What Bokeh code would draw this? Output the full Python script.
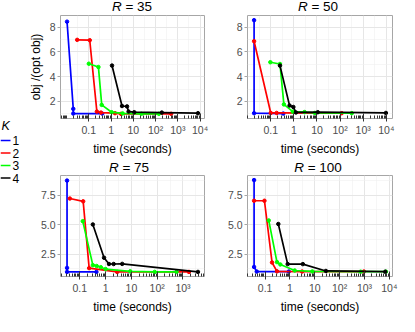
import math
from bokeh.plotting import figure
from bokeh.models import Range1d, FixedTicker, ColumnDataSource, Div
from bokeh.core.properties import value
from bokeh.layouts import row, column
from bokeh.embed import file_html
from bokeh.resources import INLINE

# ---------------- data ----------------
K_LABELS = ["1", "2", "3", "4"]
K_COLORS = ["#0000FF", "#FF0000", "#00FF00", "#000000"]
R_VALUES = [35, 50, 75, 100]

# R = 35
t35_k1 = [0.0105, 0.02, 0.02, 0.4]
y35_k1 = [8.45, 1.4, 1.02, 1.02]
t35_k2 = [0.03, 0.11, 0.23, 0.35, 1.5, 2.8, 500]
y35_k2 = [6.98, 6.95, 1.18, 1.1, 1.05, 1.0, 1.0]
t35_k3 = [0.1, 0.27, 0.38, 1.06, 3.3, 23, 140]
y35_k3 = [5.05, 4.78, 1.72, 1.13, 1.03, 1.0, 1.0]
t35_k4 = [1.1, 3.1, 5.2, 6.1, 11, 190, 8000]
y35_k4 = [4.9, 1.63, 1.6, 1.18, 1.13, 1.1, 1.05]

# R = 50
t50_k1 = [0.019, 0.019, 0.35]
y50_k1 = [8.57, 1.05, 1.02]
t50_k2 = [0.019, 0.1, 0.18, 117]
y50_k2 = [6.87, 1.07, 1.07, 1.05]
t50_k3 = [0.096, 0.25, 0.37, 0.9, 2.9, 8.1, 320]
y50_k3 = [5.17, 5.03, 1.76, 1.17, 1.14, 1.07, 1.05]
t50_k4 = [0.25, 0.65, 0.95, 1.23, 10.8, 9600]
y50_k4 = [4.9, 1.67, 1.55, 1.11, 1.13, 1.07]

# R = 75
t75_k1 = [0.032, 0.032, 0.032, 0.44]
y75_k1 = [8.74, 1.34, 1.0, 1.0]
t75_k2 = [0.041, 0.135, 0.23, 2.8, 1700]
y75_k2 = [7.22, 6.98, 1.32, 1.0, 1.0]
t75_k3 = [0.13, 0.32, 0.45, 0.65, 1.0, 9, 80, 560]
y75_k3 = [5.3, 1.57, 1.5, 1.4, 1.24, 1.05, 1.0, 1.0]
t75_k4 = [0.32, 0.87, 1.35, 2.05, 4.4, 3800]
y75_k4 = [5.02, 2.2, 1.67, 1.67, 1.68, 1.0]

# R = 100
t100_k1 = [0.036, 0.036, 0.046, 0.9]
y100_k1 = [8.78, 1.42, 1.03, 1.03]
t100_k2 = [0.036, 0.094, 0.19, 0.3, 3.1, 950]
y100_k2 = [7.03, 7.03, 1.8, 1.05, 1.03, 1.03]
t100_k3 = [0.14, 0.3, 0.41, 1.55, 8, 700, 7300]
y100_k3 = [5.36, 1.83, 1.63, 1.12, 1.04, 1.02, 1.02]
t100_k4 = [0.34, 0.81, 3.3, 28, 6900]
y100_k4 = [5.06, 1.66, 1.66, 1.08, 1.02]

X_TICKS = [0.1, 1, 10, 100, 1000, 10000]
X_TICK_LABELS = ["0.1", "1", "10", "10\u00b2", "10\u00b3", "10\u2074"]
Y_TICKS_TOP = [2, 4, 6, 8]
Y_TICK_LABELS_TOP = ["2", "4", "6", "8"]
Y_TICKS_BOTTOM = [2.5, 5.0, 7.5]
Y_TICK_LABELS_BOTTOM = ["2.5", "5.0", "7.5"]

X_TITLE = "time (seconds)"
Y_TITLE = "obj /(opt obj)"
LEGEND_TITLE = "K"

panels = {
    35: ([t35_k1, t35_k2, t35_k3, t35_k4], [y35_k1, y35_k2, y35_k3, y35_k4]),
    50: ([t50_k1, t50_k2, t50_k3, t50_k4], [y50_k1, y50_k2, y50_k3, y50_k4]),
    75: ([t75_k1, t75_k2, t75_k3, t75_k4], [y75_k1, y75_k2, y75_k3, y75_k4]),
    100: ([t100_k1, t100_k2, t100_k3, t100_k4], [y100_k1, y100_k2, y100_k3, y100_k4]),
}

FONT = "Liberation Sans"
LOG_MINOR = [m * 10.0 ** e for e in range(-3, 5) for m in range(2, 10)] + [0.01]
X_GRID_MINOR = [10.0 ** (e + 0.5) for e in range(-3, 5)]


def y_range_for(rs):
    vals = [v for r in rs for lst in panels[r][1] for v in lst]
    lo, hi = min(vals), max(vals)
    pad = 0.05 * (hi - lo)
    return (lo - pad, hi + pad)


def make_title(r, width, height, mbl, mbr, line_h):
    return Div(text="<i>R</i> = %d" % r, width=width - mbl - mbr, height=height,
               margin=(0, mbr, 0, mbl), align="start",
               styles={"font-family": FONT, "font-size": "13.5px", "color": "#000000",
                       "text-align": "center", "line-height": "%dpx" % line_h,
                       "white-space": "nowrap", "overflow": "visible"})


def make_panel(r, width, height, mbl, mbr, mbt, mbb, yr, yticks, ylabels, yminor, ylabel):
    ts, ys = panels[r]
    allt = [v for lst in ts for v in lst]
    lo, hi = math.log10(min(allt)), math.log10(max(allt))
    pad = 0.05 * (hi - lo)
    p = figure(width=width, height=height, x_axis_type="log", title=None,
               x_range=Range1d(10 ** (lo - pad), 10 ** (hi + pad)),
               y_range=Range1d(*yr), align="start",
               output_backend="svg", toolbar_location=None,
               min_border_left=mbl, min_border_right=mbr,
               min_border_top=mbt, min_border_bottom=mbb)
    p.background_fill_color = "white"
    p.border_fill_color = "white"
    p.outline_line_color = "#A6A6A6"
    p.outline_line_width = 1

    for t, y, c in zip(ts, ys, K_COLORS):
        src = ColumnDataSource(dict(t=t, y=y))
        p.line("t", "y", source=src, line_color=c, line_width=1.7)
        p.scatter("t", "y", source=src, size=3.5, fill_color=c, line_color=c)

    xa = p.xaxis[0]
    xa.ticker = FixedTicker(ticks=X_TICKS, minor_ticks=LOG_MINOR)
    xa.major_label_overrides = {float(k): v for k, v in zip(X_TICKS, X_TICK_LABELS)}
    xa.axis_line_color = None
    xa.major_tick_in = 5
    xa.major_tick_out = 3
    xa.minor_tick_in = 3
    xa.minor_tick_out = 0
    xa.major_tick_line_color = "#333333"
    xa.minor_tick_line_color = "#333333"
    xa.major_label_text_font = FONT
    xa.major_label_text_font_size = "10.5px"
    xa.major_label_text_color = "#4D4D4D"
    xa.major_label_standoff = 2
    xa.axis_label = X_TITLE
    xa.axis_label_text_font = FONT
    xa.axis_label_text_font_size = "12px"
    xa.axis_label_text_font_style = "normal"
    xa.axis_label_text_color = "#000000"
    xa.axis_label_standoff = 3

    ya = p.yaxis[0]
    ya.ticker = FixedTicker(ticks=yticks, minor_ticks=yminor)
    ya.major_label_overrides = {float(k): v for k, v in zip(yticks, ylabels)}
    ya.axis_line_color = None
    ya.major_tick_in = 0
    ya.major_tick_out = 3
    ya.minor_tick_in = 0
    ya.minor_tick_out = 0
    ya.major_tick_line_color = "#A6A6A6"
    ya.major_label_text_font = FONT
    ya.major_label_text_font_size = "10.5px"
    ya.major_label_text_color = "#4D4D4D"
    ya.major_label_standoff = 2
    if ylabel:
        ya.axis_label = Y_TITLE
        ya.axis_label_text_font = FONT
        ya.axis_label_text_font_size = "12px"
        ya.axis_label_text_font_style = "normal"
        ya.axis_label_text_color = "#000000"
        ya.axis_label_standoff = 4

    p.xgrid.ticker = FixedTicker(ticks=X_TICKS, minor_ticks=X_GRID_MINOR)
    p.xgrid.grid_line_color = "#E6E6E6"
    p.xgrid.minor_grid_line_color = "#F0F0F0"
    p.xgrid.minor_grid_line_width = 0.6
    p.ygrid.grid_line_color = "#E6E6E6"
    p.ygrid.minor_grid_line_color = "#F0F0F0"
    p.ygrid.minor_grid_line_width = 0.6
    return p


yr_top = y_range_for([35, 50])
yr_bot = y_range_for([75, 100])
TOP_MINOR = [1, 3, 5, 7]
BOT_MINOR = [1.25, 3.75, 6.25, 8.75]

p1 = make_panel(35, 199, 144, 30, 15, 1, 38, yr_top, Y_TICKS_TOP, Y_TICK_LABELS_TOP, TOP_MINOR, True)
p2 = make_panel(50, 175, 144, 18, 5, 1, 38, yr_top, Y_TICKS_TOP, Y_TICK_LABELS_TOP, TOP_MINOR, False)
p3 = make_panel(75, 199, 142, 29, 20, 1, 38, yr_bot, Y_TICKS_BOTTOM, Y_TICK_LABELS_BOTTOM, BOT_MINOR, False)
p4 = make_panel(100, 175, 142, 20, 7, 1, 38, yr_bot, Y_TICKS_BOTTOM, Y_TICK_LABELS_BOTTOM, BOT_MINOR, False)

d1 = make_title(35, 199, 14, 30, 15, 14)
d2 = make_title(50, 175, 14, 18, 5, 14)
d3 = make_title(75, 199, 16, 29, 20, 20)
d4 = make_title(100, 175, 16, 20, 7, 20)

# legend drawn in its own small figure (pixel-like coordinates, y downward)
LG_W, LG_H = 25, 316
lg = figure(width=LG_W, height=LG_H, output_backend="svg", toolbar_location=None,
            title=None, align="start",
            x_range=Range1d(0, LG_W), y_range=Range1d(LG_H, 0),
            min_border_left=0, min_border_right=0, min_border_top=0, min_border_bottom=0)
lg.axis.visible = False
lg.grid.visible = False
lg.outline_line_color = None
lg.background_fill_color = "white"
lg.border_fill_color = "white"
item_y = [140 + 12.5 * i for i in range(len(K_LABELS))]
lg_src = ColumnDataSource(dict(x0=[0] * len(K_LABELS), x1=[10] * len(K_LABELS),
                               y=item_y, lab=K_LABELS, col=K_COLORS,
                               tx=[12] * len(K_LABELS)))
lg.segment(x0="x0", x1="x1", y0="y", y1="y", color="col", line_width=1.7, source=lg_src)
lg.text(x="tx", y="y", text="lab", source=lg_src, text_font=value(FONT),
        text_font_size="12px", text_baseline="middle", text_align="left",
        text_color="#000000")
lg.text(x=[1], y=[125], text=[LEGEND_TITLE], text_font=value(FONT),
        text_font_size="12.5px", text_font_style="italic",
        text_baseline="middle", text_align="left", text_color="#000000")

c1 = column(d1, p1, d3, p3, spacing=0, align="start")
c2 = column(d2, p2, d4, p4, spacing=0, align="start")
layout = row(lg, c1, c2, spacing=0)
open("out.html", "w").write(file_html(layout, INLINE))
